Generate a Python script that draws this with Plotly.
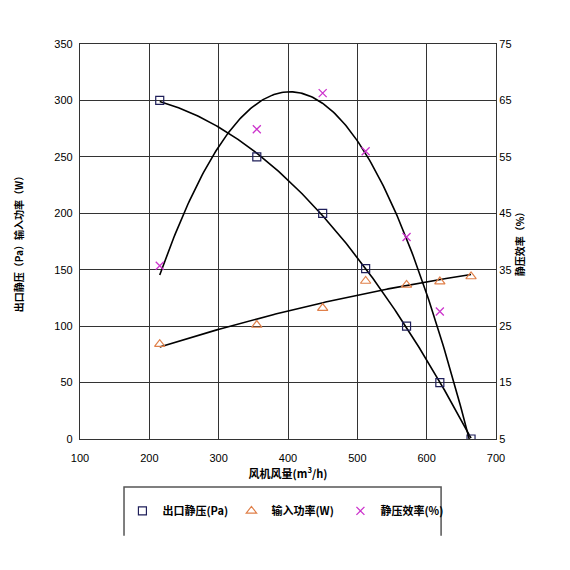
import plotly.graph_objects as go
import numpy as np

# fan airflow (m3/h)
flow = [215, 355, 450, 512, 571, 619, 664]
# outlet static pressure (Pa)
pressure = [300, 250, 200, 151, 100, 50, 0]
# input power (W)
power = [84, 101, 116, 140, 136.5, 139.5, 144]
# static efficiency (%) - last point sits at 0, below the axis floor
efficiency = [35.7, 59.9, 66.3, 56.0, 40.8, 27.6, 0]

names = ['<b>出口静压(Pa)</b>', '<b>输入功率(W)</b>', '<b>静压效率(%)</b>']

font_cn = 'Noto Sans CJK SC'
font_num = 'Liberation Sans'

fig = go.Figure()

# trend lines (2nd order fits like the spreadsheet trendlines)
xs = np.linspace(min(flow), max(flow), 200)
for ys, axis in [(pressure, 'y'), (power, 'y'), (efficiency, 'y2')]:
    c = np.polyfit(flow, ys, 2)
    fig.add_trace(go.Scatter(x=xs, y=np.polyval(c, xs), mode='lines',
                             line=dict(color='black', width=1.6),
                             yaxis=axis, showlegend=False, hoverinfo='skip'))

fig.add_trace(go.Scatter(x=flow, y=pressure, mode='markers', name=names[0],
                         marker=dict(symbol='square-open', size=8,
                                     color='#1f1f5a', line=dict(width=1.2))))
fig.add_trace(go.Scatter(x=flow, y=power, mode='markers', name=names[1],
                         marker=dict(symbol='triangle-up-open', size=9,
                                     color='#e0804a', line=dict(width=1.2))))
fig.add_trace(go.Scatter(x=flow[:-1], y=efficiency[:-1], mode='markers',
                         name=names[2], yaxis='y2',
                         marker=dict(symbol='x-thin-open', size=8,
                                     color='#cc33cc', line=dict(width=1.3, color='#cc33cc'))))

axis_style = dict(showline=True, linecolor='#333333', linewidth=1.2,
                  tickfont=dict(family=font_num, size=11, color='black'),
                  ticks='', zeroline=False)

fig.update_layout(
    width=570, height=570,
    margin=dict(l=72, r=82, t=36, b=139),
    paper_bgcolor='white', plot_bgcolor='white',
    font=dict(family=font_cn, color='black'),
    xaxis=dict(range=[100, 700], dtick=100, showgrid=True, gridcolor='#333333', gridwidth=1,
               ticklabelstandoff=9,
               title=dict(text='<b>风机风量(m<sup>3</sup>/h)</b>', font=dict(size=11, family=font_cn),
                          standoff=4),
               mirror=True, **axis_style),
    yaxis=dict(range=[0, 350], dtick=50, showgrid=True, gridcolor='#333333', gridwidth=1,
               ticklabelstandoff=4,
               title=dict(text='<b>出口静压（Pa）输入功率（W）</b>', font=dict(size=10, family=font_cn),
                          standoff=28),
               mirror=True, **axis_style),
    yaxis2=dict(range=[5, 75], tick0=5, dtick=10, overlaying='y', side='right', showgrid=False,
                title=dict(text='<b>静压效率（%）</b>', font=dict(size=10, family=font_cn),
                           standoff=6),
                **axis_style),
    legend=dict(orientation='h', x=0.102, y=-0.182, xanchor='left', yanchor='middle',
                entrywidth=64, bgcolor='rgba(0,0,0,0)', itemwidth=30,
                font=dict(size=11, family=font_cn, color='black')),
    shapes=[dict(type='path', xref='paper', yref='paper',
                 path='M 0.1058 -0.245 L 0.1058 -0.1215 L 0.868 -0.1215 L 0.868 -0.245',
                 line=dict(color='#555555', width=1.5))],
)

fig.write_html("out.html")
